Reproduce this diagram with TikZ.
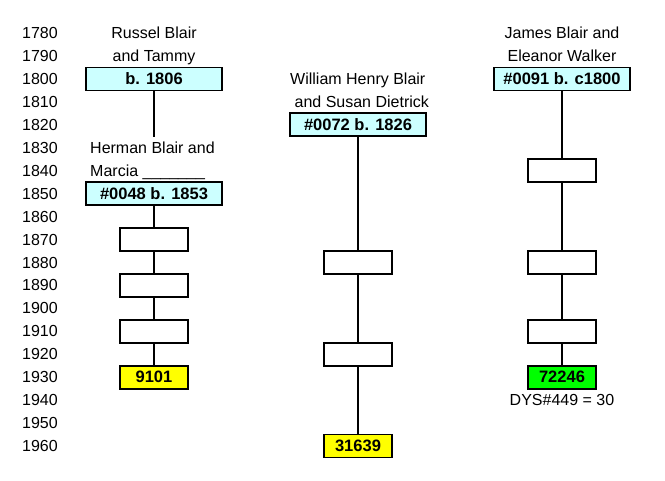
\documentclass[tikz,border=0pt]{standalone}
\usepackage{fontspec}
\setmainfont{Liberation Sans}
\definecolor{cyanbox}{HTML}{CCFFFF}
\definecolor{yelbox}{HTML}{FFFF00}
\definecolor{grnbox}{HTML}{00FF00}
\begin{document}
\begin{tikzpicture}[x=1pt,y=-1pt,
  boxbase/.style={draw, line width=1.8pt, minimum height=23pt, inner sep=0pt,
    font=\bfseries\fontsize{16.5}{18}\selectfont},
  wide/.style={boxbase, minimum width=136pt, fill=cyanbox},
  narrow/.style={boxbase, minimum width=68pt, fill=white},
  yel/.style={boxbase, minimum width=68pt, fill=yelbox},
  grn/.style={boxbase, minimum width=68pt, fill=grnbox},
  conn/.style={line width=1.8pt},
  yearlbl/.style={font=\fontsize{16}{23}\selectfont, inner sep=0pt, anchor=base},
  lbl/.style={font=\fontsize{16}{23}\selectfont, inner sep=0pt, anchor=base, align=center},
  lbll/.style={font=\fontsize{16}{23}\selectfont, inner sep=0pt, anchor=base west, align=left}]
\useasboundingbox (0,0) rectangle (665,480);
\fill[white] (0,0) rectangle (665,480);
% year axis
\foreach \i in {0,...,18}{
  \pgfmathtruncatemacro{\yr}{1780+10*\i}
  \node[yearlbl] (yr\i) at (40, 38.6+\i*22.94) {\yr};
}
% left column
\node[lbl] (tRB) at (154, 61.5) {Russel Blair\\and Tammy};
\node[wide] (b1806) at (154, 78.9) {b. 1806};
\coordinate (lEnd) at (154, 137);
\node[lbll] (tHB) at (90, 176.3) {Herman Blair and\\Marcia \_\_\_\_\_\_\_};
\node[wide] (b0048) at (154, 193.7) {\#0048 b. 1853};
\node[narrow] (L1) at (154, 239.5) {};
\node[narrow] (L2) at (154, 285.4) {};
\node[narrow] (L3) at (154, 331.3) {};
\node[yel] (b9101) at (154, 377.2) {9101};
\draw[conn] (b1806) -- (lEnd);
\draw[conn] (b0048) -- (L1);
\draw[conn] (L1) -- (L2);
\draw[conn] (L2) -- (L3);
\draw[conn] (L3) -- (b9101);
% middle column
\node[lbll] (tWH) at (290, 107.4) {William Henry Blair\\\ and Susan Dietrick};
\node[wide] (b0072) at (358, 124.8) {\#0072 b. 1826};
\node[narrow] (M1) at (358, 262.4) {};
\node[narrow] (M2) at (358, 354.2) {};
\node[yel] (b31639) at (358, 445.9) {31639};
\draw[conn] (b0072) -- (M1);
\draw[conn] (M1) -- (M2);
\draw[conn] (M2) -- (b31639);
% right column
\node[lbl] (tJB) at (562, 61.5) {James Blair and\\Eleanor Walker};
\node[wide] (b0091) at (562, 78.9) {\#0091 b. c1800};
\node[narrow] (R1) at (562, 170.6) {};
\node[narrow] (R2) at (562, 262.4) {};
\node[narrow] (R3) at (562, 331.3) {};
\node[grn] (b72246) at (562, 377.2) {72246};
\node[lbl] (tDYS) at (562, 405.8) {DYS\#449 = 30};
\draw[conn] (b0091) -- (R1);
\draw[conn] (R1) -- (R2);
\draw[conn] (R2) -- (R3);
\draw[conn] (R3) -- (b72246);
\end{tikzpicture}
\end{document}
